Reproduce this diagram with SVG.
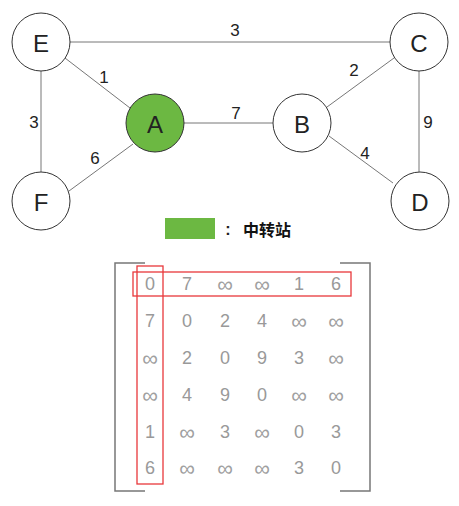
<svg xmlns="http://www.w3.org/2000/svg" width="459" height="506" viewBox="0 0 459 506">
<style>
.node circle{fill:#fff;stroke:#333;stroke-width:1}
.node text{font-family:"Liberation Sans",Arial,sans-serif;font-size:24px;fill:#222;text-anchor:middle;dominant-baseline:central}
.edges line{stroke:#777;stroke-width:1}
.wl{font-family:"Liberation Sans",Arial,sans-serif;font-size:17px;fill:#222;text-anchor:middle;dominant-baseline:central}
.m text{font-family:"Liberation Sans",Arial,sans-serif;font-size:18px;fill:#999;text-anchor:middle;dominant-baseline:central}
.m text.i{font-family:"DejaVu Sans",sans-serif;font-size:22px;font-weight:200;fill:#a0a0a0}
.br{fill:none;stroke:#777;stroke-width:1.5}
</style>
<rect width="459" height="506" fill="#fff"/>
<g id="connectors" class="edges">
<line x1="70" y1="42" x2="390" y2="42"/>
<line x1="65" y1="58" x2="130" y2="108"/>
<line x1="41" y1="71" x2="41" y2="172"/>
<line x1="69" y1="191" x2="133" y2="144"/>
<line x1="184" y1="123" x2="273" y2="123"/>
<line x1="327" y1="107" x2="394" y2="58"/>
<line x1="329" y1="136" x2="393" y2="183"/>
<line x1="419" y1="71" x2="419" y2="172"/>
<text class="wl" x="235" y="30">3</text>
<text class="wl" x="104" y="77">1</text>
<text class="wl" x="34" y="122">3</text>
<text class="wl" x="95" y="158">6</text>
<text class="wl" x="236" y="113">7</text>
<text class="wl" x="354" y="70">2</text>
<text class="wl" x="365" y="153">4</text>
<text class="wl" x="428" y="122">9</text>
</g>
<g id="node-E" class="node"><circle cx="41" cy="42" r="29"/><text x="41" y="43">E</text></g>
<g id="node-F" class="node"><circle cx="41" cy="201" r="29"/><text x="41" y="202">F</text></g>
<g id="node-A" class="node"><circle cx="155" cy="123" r="29" style="fill:#6cb842"/><text x="155" y="124">A</text></g>
<g id="node-B" class="node"><circle cx="302" cy="123" r="29"/><text x="302" y="124">B</text></g>
<g id="node-C" class="node"><circle cx="419" cy="42" r="29"/><text x="419" y="43">C</text></g>
<g id="node-D" class="node"><circle cx="420" cy="201" r="29"/><text x="420" y="202">D</text></g>
<g id="legend">
<rect x="165" y="218" width="50" height="21" fill="#6cb842"/>
<text x="228" y="229" font-family="'Liberation Sans','Noto Sans CJK SC',sans-serif" font-size="16" font-weight="bold" fill="#222" text-anchor="middle" dominant-baseline="central">:</text>
<text x="243" y="229" font-family="'Noto Sans CJK SC',sans-serif" font-size="16" font-weight="bold" fill="#111" dominant-baseline="central">中转站</text>
</g>
<g id="matrix">
<path class="br" d="M145,263 H115 V491 H145"/>
<path class="br" d="M340,263 H370 V491 H340"/>
<g class="m">
<text x="150" y="284">0</text><text x="187" y="284">7</text><text class="i" x="225" y="284">∞</text><text class="i" x="262" y="284">∞</text><text x="299" y="284">1</text><text x="336" y="284">6</text>
<text x="150" y="321">7</text><text x="187" y="321">0</text><text x="225" y="321">2</text><text x="262" y="321">4</text><text class="i" x="299" y="321">∞</text><text class="i" x="336" y="321">∞</text>
<text class="i" x="150" y="358">∞</text><text x="187" y="358">2</text><text x="225" y="358">0</text><text x="262" y="358">9</text><text x="299" y="358">3</text><text class="i" x="336" y="358">∞</text>
<text class="i" x="150" y="395">∞</text><text x="187" y="395">4</text><text x="225" y="395">9</text><text x="262" y="395">0</text><text class="i" x="299" y="395">∞</text><text class="i" x="336" y="395">∞</text>
<text x="150" y="432">1</text><text class="i" x="187" y="432">∞</text><text x="225" y="432">3</text><text class="i" x="262" y="432">∞</text><text x="299" y="432">0</text><text x="336" y="432">3</text>
<text x="150" y="468">6</text><text class="i" x="187" y="468">∞</text><text class="i" x="225" y="468">∞</text><text class="i" x="262" y="468">∞</text><text x="299" y="468">3</text><text x="336" y="468">0</text>
</g>
<rect x="133" y="272" width="218" height="24" fill="none" stroke="#e8383b" stroke-width="1.3"/>
<rect x="137" y="266" width="26" height="218" fill="none" stroke="#e8383b" stroke-width="1.3"/>
</g>
</svg>
